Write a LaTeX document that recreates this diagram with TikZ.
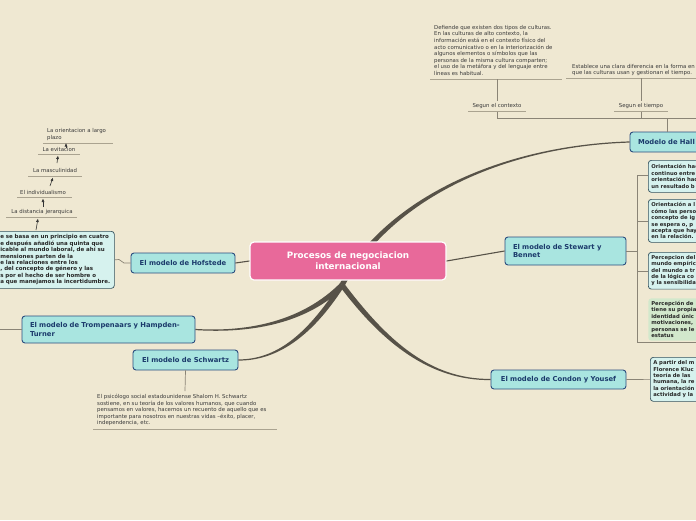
\documentclass[tikz,border=0pt]{standalone}
\usepackage{fontspec}
\setmainfont{DejaVu Sans}
\usetikzlibrary{arrows.meta,calc}
\definecolor{bg}{HTML}{EFE8D2}
\definecolor{nodefill}{HTML}{A9E5E0}
\definecolor{nodeborder}{HTML}{2B4C7E}
\definecolor{nodetext}{HTML}{1B3A6B}
\definecolor{centerfill}{HTML}{E8699A}
\definecolor{connc}{HTML}{575248}
\definecolor{linkc}{HTML}{8A8476}
\definecolor{ulinec}{HTML}{AAA390}
\definecolor{txtc}{HTML}{3A3A3A}
\definecolor{childfill}{HTML}{D6F2EE}
\definecolor{childborder}{HTML}{34525E}
\definecolor{greenfill}{HTML}{D2E8CC}
\newcommand\mmtaper[6]{%
  \coordinate (tA) at #1; \coordinate (tC) at #2; \coordinate (tD) at #3; \coordinate (tB) at #4;
  \coordinate (tP1) at ($(tA)!#5!90:(tC)$);
  \coordinate (tP2) at ($(tA)!#5!-90:(tC)$);
  \coordinate (tQ1) at ($(tB)!#6!-90:(tD)$);
  \coordinate (tQ2) at ($(tB)!#6!90:(tD)$);
  \fill[connc] (tP1) .. controls ($(tC)+(tP1)-(tA)$) and ($(tD)+(tQ1)-(tB)$) .. (tQ1)
     -- (tQ2) .. controls ($(tD)+(tQ2)-(tB)$) and ($(tC)+(tP2)-(tA)$) .. (tP2) -- cycle;}
\tikzset{
  topic/.style={draw=nodeborder, fill=nodefill, rounded corners=3pt, line width=0.9pt,
    text=nodetext, font=\bfseries\fontsize{6.8}{8.6}\selectfont, inner xsep=8pt, inner ysep=0pt},
  smalltxt/.style={font=\fontsize{5.4}{6.6}\selectfont, align=left, inner sep=0pt, text=txtc},
  childbox/.style={draw=childborder, fill=childfill, rounded corners=3pt, line width=0.7pt,
    font=\bfseries\fontsize{5.3}{6.4}\selectfont, align=left, inner xsep=3pt, inner ysep=3pt,
    text=black!85, anchor=north west, text width=54pt},
  link/.style={draw=linkc, line width=0.7pt},
  uline/.style={draw=ulinec, line width=0.7pt},
  arr/.style={draw=black!80, line width=0.6pt, -{Latex[length=3.5pt,width=3pt]}},
}
\begin{document}
\begin{tikzpicture}[x=1pt,y=-1pt]
\useasboundingbox (0,0) rectangle (696,520);
\fill[bg] (0,0) rectangle (696,520);
\clip (0,0) rectangle (696,520);

% ---------- main nodes ----------
\node[topic, minimum width=104pt, minimum height=20pt] (hof) at (183,263) {El modelo de Hofstede};
\node[topic, minimum width=173pt, minimum height=27pt, text width=157pt, align=left] (tromp) at (108.5,329.5) {El modelo de Trompenaars y Hampden-\\Turner};
\node[topic, minimum width=105pt, minimum height=20pt] (schw) at (185.5,360) {El modelo de Schwartz};
\node[topic, minimum width=121pt, minimum height=28pt, text width=105pt, align=left] (stew) at (565.5,251) {El modelo de Stewart y\\Bennet};
\node[topic, minimum width=135pt, minimum height=19pt] (cond) at (558.5,379.5) {El modelo de Condon y Yousef};
\node[topic, minimum width=90pt, minimum height=20pt, text width=74pt, align=left] (hall) at (675,142) {Modelo de Hall};

% ---------- thick connectors ----------
\coordinate (hub) at (342,285);
\mmtaper{(hub)}{(388,200)}{(500,146)}{(hall.west)}{2.6pt}{0.6pt}
\mmtaper{(hub)}{(305,322)}{(250,333)}{(tromp.east)}{2.6pt}{0.6pt}
\mmtaper{(hub)}{(308,338)}{(275,360)}{(schw.east)}{2.6pt}{0.6pt}
\mmtaper{(hub)}{(385,342)}{(430,380)}{(cond.west)}{2.6pt}{0.6pt}

% ---------- central node ----------
\node[draw=white, fill=centerfill, rounded corners=4pt, line width=1.2pt, text=white,
  font=\bfseries\fontsize{8.8}{10.7}\selectfont, align=center,
  minimum width=196pt, minimum height=38pt] (center) at (348,261) {Procesos de negociacion\\internacional};

\draw[connc, line width=1.1pt] (center.east) -- (stew.west);
\draw[connc, line width=1.1pt] (center.west) -- (hof.east);

% ---------- Hall branch ----------
\node[smalltxt, anchor=north west] (ctxt) at (434,25) {Defiende que existen dos tipos de culturas.\\En las culturas de alto contexto, la\\información está en el contexto físico del\\acto comunicativo o en la interiorización de\\algunos elementos o símbolos que las\\personas de la misma cultura comparten;\\el uso de la metáfora y del lenguaje entre\\líneas es habitual.};
\draw[uline] (430,79) -- (562,79);
\node[smalltxt, anchor=north west] (ttxt) at (572,64) {Establece una clara diferencia en la forma en\\que las culturas usan y gestionan el tiempo.};
\draw[uline] (566,78) -- (696,78);
\node[smalltxt] (segc) at (497,106) {Segun el contexto};
\draw[uline] (468,111.5) -- (526,111.5);
\node[smalltxt] (segt) at (641,106) {Segun el tiempo};
\draw[uline] (614,111.5) -- (668,111.5);
\draw[link] (497,79) -- (497,101);
\draw[link] (641,78) -- (641,101);
\draw[link] (497,111.5) -- (497,118) -- (696,118);
\draw[link] (641,111.5) -- (641,118);
\draw[link] (hall.north -| 667,0) -- (667,118);

% ---------- Stewart branch ----------
\coordinate (sb) at (637,251);
\draw[link] (stew.east) -- (sb);
\draw[link] (637,175) -- (637,342) -- (696,342);
\node[childbox, minimum height=32pt] (s1) at (648,160) {Orientación hac\\continuo entre \\orientación hac\\un resultado b};
\node[childbox, minimum height=43pt] (s2) at (648,199) {Orientación a l\\cómo las perso\\concepto de ig\\se espera o, p\\acepta que hay\\en la relación.};
\node[childbox, minimum height=36pt] (s3) at (648,252) {Percepcion del\\mundo empíric\\del mundo a tr\\de la lógica co\\y la sensibilida};
\node[childbox, draw=none, fill=greenfill, minimum height=42pt] (s4) at (648,298) {Percepción de\\tiene su propia\\identidad únic\\motivaciones, \\personas se le\\estatus};
\draw[link] (637,175) -- (s1.west |- 0,175);
\draw[link] (637,221) -- (s2.west |- 0,221);
\draw[link] (637,271) -- (s3.west |- 0,271);

% ---------- Condon branch ----------
\node[childbox, minimum height=44pt] (c1) at (650,357) {A partir del m\\Florence Kluc\\teoría de las \\humana, la re\\la orientación\\actividad y la };
\draw[link] (cond.east) -- (c1.west);

% ---------- Schwartz branch ----------
\draw[link] (schw.south) -- (185,391);
\node[smalltxt, anchor=north west] (stxt) at (97,394) {El psicólogo social estadounidense Shalom H. Schwartz\\sostiene, en su teoría de los valores humanos, que cuando\\pensamos en valores, hacemos un recuento de aquello que es\\importante para nosotros en nuestras vidas –éxito, placer,\\independencia, etc.};
\draw[uline] (93,429) -- (277,429);

% ---------- Trompenaars ----------
\draw[link] (tromp.west) -- (0,329.5);

% ---------- Hofstede branch ----------
\node[childbox, font=\bfseries\fontsize{5.5}{6.4}\selectfont, text width=110pt, inner xsep=4pt,
  minimum height=57pt] (hbox) at (-4,231) {e se basa en un principio en cuatro\\e después añadió una quinta que\\icable al mundo laboral, de ahí su\\mensiones parten de la\\e las relaciones entre los\\, del concepto de género y las\\s por el hecho de ser hombre o\\a que manejamos la incertidumbre.};
\draw[link] (hof.west) -- (124,263) -- (119,259.5) -- (hbox.east);

\node[smalltxt] (dist) at (42,212) {La distancia jerarquica};
\draw[uline] (6,217) -- (77,217);
\node[smalltxt] (indiv) at (43,192) {El individualismo};
\draw[uline] (17,197) -- (72,197);
\node[smalltxt] (masc) at (55,170.5) {La masculinidad};
\draw[uline] (28,176) -- (82,176);
\node[smalltxt] (evit) at (59,149) {La evitacion};
\draw[uline] (38,154) -- (80,154);
\node[smalltxt, anchor=north west] (orient) at (47,128.5) {La orientacion a largo\\plazo};
\draw[uline] (43,143) -- (113,143);

\draw[arr] (36,230) -- (38,218.5);
\draw[arr] (43,207) -- (43,198.5);
\draw[arr] (50,186) -- (53,177.5);
\draw[arr] (57,163) -- (58,155.5);
\draw[arr] (66,148) -- (66,143);
\end{tikzpicture}
\end{document}
